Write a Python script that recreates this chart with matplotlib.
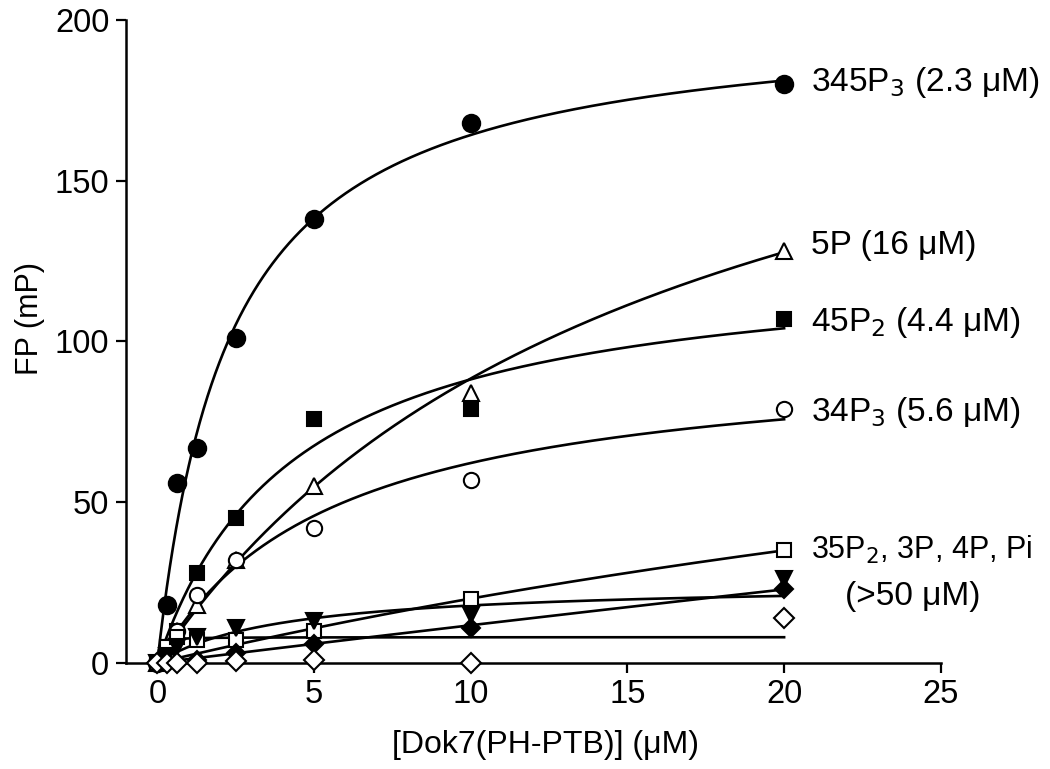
import numpy as np
import matplotlib
matplotlib.use("Agg")
import matplotlib.pyplot as plt

plt.rcParams['font.family'] = ['Liberation Sans', 'DejaVu Sans']

# Data
conc = [0, 0.3125, 0.625, 1.25, 2.5, 5, 10, 20]

fp_345P3 = [0, 18, 56, 67, 101, 138, 168, 180]
fp_5P    = [0, 4, 10, 18, 32, 55, 84, 128]
fp_45P2  = [0, 5, 10, 28, 45, 76, 79, 107]
fp_34P3  = [0, 5, 10, 21, 32, 42, 57, 79]
fp_35P2  = [0, 5, 8, 7, 7, 10, 20, 35]
fp_3P    = [0, 2, 5, 8, 11, 13, 15, 26]
fp_4P    = [0, 0, 0, 1, 3, 6, 11, 23]
fp_Pi    = [0, 0, 0, 0, 0.5, 1, 0, 14]

# hyperbolic fit parameters (Bmax, Kd) for the drawn fit curves
fit_bmax = [202, 230, 127, 97, 140, 25, 480, 8]
fit_kd   = [2.3, 16, 4.4, 5.6, 60, 4, 400, 0.05]

series = [fp_345P3, fp_5P, fp_45P2, fp_34P3, fp_35P2, fp_3P, fp_4P, fp_Pi]
markers = ['o', '^', 's', 'o', 's', 'v', 'D', 'D']
filled  = [True, False, True, False, False, True, True, False]
msizes  = [12.5, 11, 10.5, 11, 9.5, 11, 9, 10]

labels = ['345P$_3$ (2.3 μM)', '5P (16 μM)', '45P$_2$ (4.4 μM)', '34P$_3$ (5.6 μM)']
label_y = [180.4, 130, 106, 78]

fig = plt.figure(figsize=(10.5, 7.69), dpi=100)
ax = fig.add_axes([0.12, 0.138, 0.776, 0.836])

xf = np.linspace(0, 20, 800)
for b, k in zip(fit_bmax, fit_kd):
    ax.plot(xf, b * xf / (k + xf), color='black', lw=1.9, zorder=2)

for ys, m, f, ms in zip(series, markers, filled, msizes):
    ax.plot(conc, ys, linestyle='none', marker=m, markersize=ms,
            markerfacecolor='black' if f else 'white',
            markeredgecolor='black', markeredgewidth=1.5, zorder=3, clip_on=False)

fs = 24
for lab, yy in zip(labels, label_y):
    ax.text(20.85, yy, lab, fontsize=fs, va='center', ha='left')
ax.text(20.85, 35.1, '35P$_2$, 3P, 4P, Pi', fontsize=22, va='center', ha='left')
ax.text(24.1, 20.8, '(>50 μM)', fontsize=fs, va='center', ha='center')

ax.set_xlim(-1.0, 25)
ax.set_ylim(0, 200)
ax.set_xticks([0, 5, 10, 15, 20, 25])
ax.set_yticks([0, 50, 100, 150, 200])
ax.spines['top'].set_visible(False)
ax.spines['right'].set_visible(False)
for s in ['left', 'bottom']:
    ax.spines[s].set_linewidth(1.8)
ax.tick_params(direction='out', length=7, width=1.6, labelsize=23.5)
ax.tick_params(axis='x', pad=4.5)
ax.tick_params(axis='y', pad=5)
ax.set_xlabel('[Dok7(PH-PTB)] (μM)', fontsize=23)
ax.set_ylabel('FP (mP)', fontsize=22)
ax.xaxis.set_label_coords(0.515, -0.105)
ax.yaxis.set_label_coords(-0.10, 0.535)

fig.savefig('out.png', dpi=100)
